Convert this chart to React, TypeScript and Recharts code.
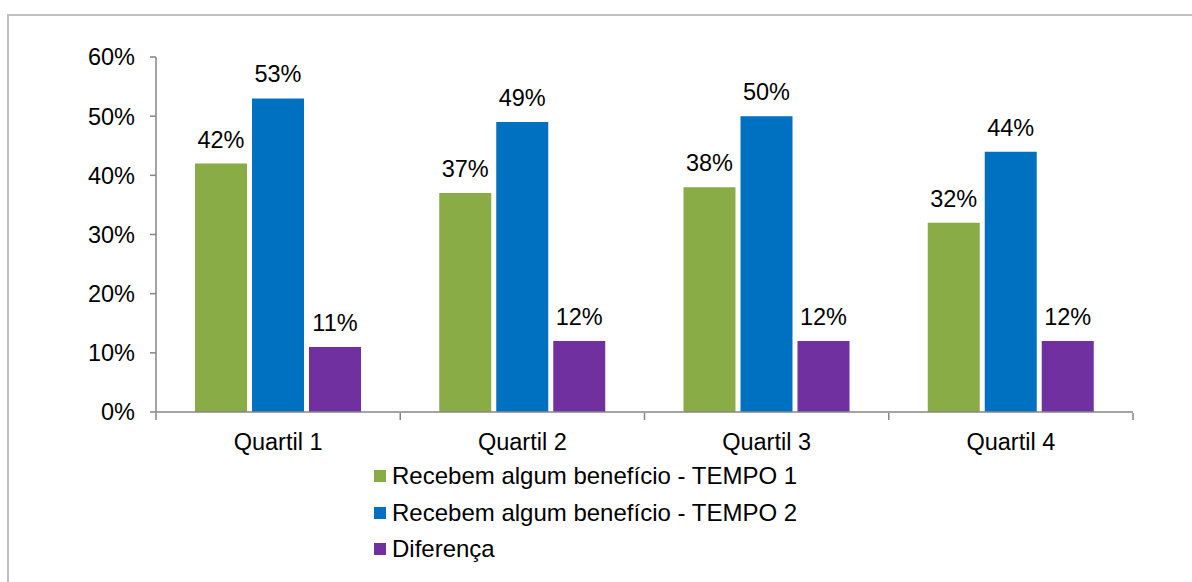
import React from "react";
import { BarChart, Bar, XAxis, YAxis, LabelList } from "recharts";

const categories = ["Quartil 1", "Quartil 2", "Quartil 3", "Quartil 4"];
const tempo1 = [42, 37, 38, 32];
const tempo2 = [53, 49, 50, 44];
const diferenca = [11, 12, 12, 12];
const yTicks = [0, 10, 20, 30, 40, 50, 60];
const boundaryTicks = [0, 1, 2, 3, 4];

const series = [
  { key: "tempo1", name: "Recebem algum benefício - TEMPO 1", color: "#8AAC46" },
  { key: "tempo2", name: "Recebem algum benefício - TEMPO 2", color: "#0070C0" },
  { key: "diferenca", name: "Diferença", color: "#7030A0" },
];

const data = categories.map((c, i) => ({
  name: c,
  idx: i + 0.5,
  tempo1: tempo1[i],
  tempo2: tempo2[i],
  diferenca: diferenca[i],
}));

const FONT = "'Liberation Sans', Arial, sans-serif";
const AXIS = "#868686";
const FS = 23.5;

export default function App() {
  return (
    <div style={{ position: "absolute", left: 0, top: 0, width: 1192, height: 582, overflow: "hidden", background: "#fff", fontFamily: FONT }}>
      <div style={{ position: "absolute", left: 7, top: 14, width: 1300, height: 700, border: "2px solid #BFBFBF", boxSizing: "border-box" }} />
      <div style={{ position: "absolute", left: 0, top: 0 }}>
        <BarChart
          width={1192}
          height={582}
          data={data}
          margin={{ top: 57, right: 59, left: 0, bottom: 168 }}
          barSize={52}
          barGap={5}
        >
          <YAxis
            width={156}
            domain={[0, 60]}
            ticks={yTicks}
            tickFormatter={(v: number) => `${v}%`}
            tick={{ fontSize: FS, fill: "#000", fontFamily: FONT }}
            axisLine={{ stroke: AXIS, strokeWidth: 1.5 }}
            tickLine={{ stroke: AXIS, strokeWidth: 1.5 }}
            tickSize={6}
            tickMargin={15}
            interval={0}
          />
          <XAxis
            dataKey="name"
            height={1}
            tick={{ fontSize: FS, fill: "#000", fontFamily: FONT }}
            axisLine={{ stroke: AXIS, strokeWidth: 1.5 }}
            tickLine={false}
            tickSize={0}
            tickMargin={21}
            interval={0}
          />
          <XAxis
            xAxisId="bounds"
            dataKey="idx"
            type="number"
            domain={[0, 4]}
            allowDataOverflow
            ticks={boundaryTicks}
            height={1}
            tick={() => <g />}
            axisLine={false}
            tickLine={{ stroke: AXIS, strokeWidth: 1.5 }}
            tickSize={7}
            interval={0}
          />
          {series.map((s) => (
            <Bar key={s.key} dataKey={s.key} name={s.name} fill={s.color} isAnimationActive={false}>
              <LabelList
                dataKey={s.key}
                position="top"
                offset={16}
                formatter={(v: any) => `${v}%`}
                style={{ fontSize: FS, fill: "#000", fontFamily: FONT }}
              />
            </Bar>
          ))}
        </BarChart>
      </div>
      {/* legend */}
      <div style={{ position: "absolute", left: 374, top: 458 }}>
        {series.map((s) => (
          <div key={s.key} style={{ display: "flex", alignItems: "center", height: 36.5, fontSize: 24, color: "#000", whiteSpace: "nowrap" }}>
            <span style={{ width: 12, height: 12, background: s.color, display: "inline-block", marginRight: 6 }} />
            {s.name}
          </div>
        ))}
      </div>
    </div>
  );
}
